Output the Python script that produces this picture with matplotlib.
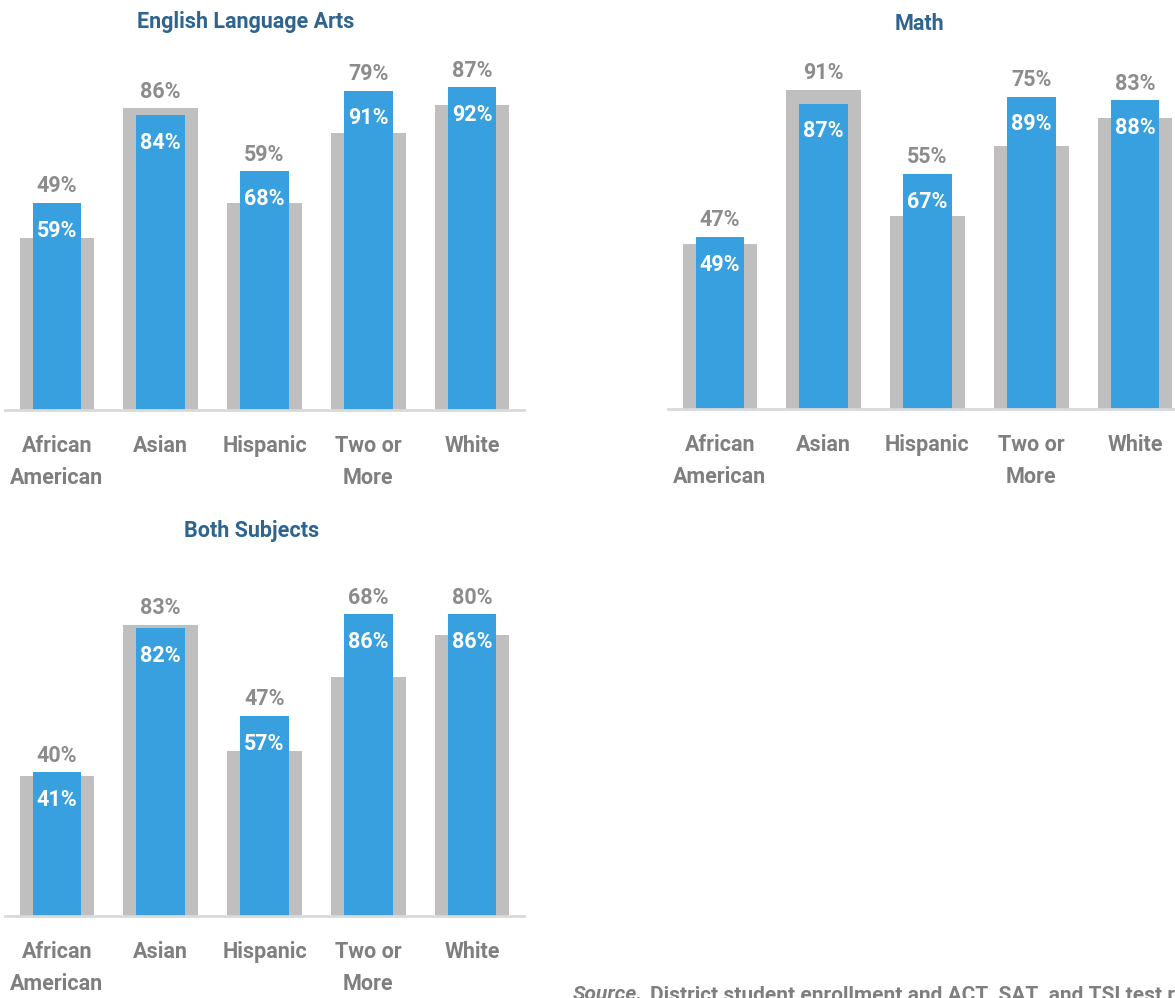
import matplotlib
matplotlib.use("Agg")
import matplotlib.pyplot as plt
import numpy as np

plt.rcParams['font.family'] = ['Roboto', 'DejaVu Sans']

# data
groups = ['African\nAmerican', 'Asian', 'Hispanic', 'Two or\nMore', 'White']
ela_gray = [49, 86, 59, 79, 87]
ela_blue = [59, 84, 68, 91, 92]
math_gray = [47, 91, 55, 75, 83]
math_blue = [49, 87, 67, 89, 88]
both_gray = [40, 83, 47, 68, 80]
both_blue = [41, 82, 57, 86, 86]

BLUE = '#39A0E0'
GRAY = '#BFBFBF'
TXT = '#7F7F7F'
TITLE = '#2D6490'

W, H = 1175, 998
fig = plt.figure(figsize=(W / 100, H / 100), dpi=100)

title_y = {'English Language Arts': 22, 'Math': 24, 'Both Subjects': 531}


def panel(left_px, base_px, title, title_x, gray, blue):
    ax = fig.add_axes([left_px / W, (H - base_px) / H, 519 / W, 351 / H])
    x = np.arange(len(groups))
    ax.bar(x, gray, width=0.72, color=GRAY, zorder=1)
    ax.bar(x, blue, width=0.47, color=BLUE, zorder=2)
    ax.set_xlim(-0.5, 4.5)
    ax.set_ylim(0, 100)
    for s in ['top', 'right', 'left']:
        ax.spines[s].set_visible(False)
    ax.spines['bottom'].set_color('#D9D9D9')
    ax.spines['bottom'].set_linewidth(2)
    ax.set_yticks([])
    ax.set_xticks(x)
    ax.set_xticklabels(groups, fontsize=15.5, fontweight='bold', color=TXT,
                       linespacing=1.6)
    ax.tick_params(axis='x', length=0, pad=18)
    for i in range(len(groups)):
        top = max(gray[i], blue[i])
        ax.annotate(f'{gray[i]}%', (x[i], top), xytext=(0, 4),
                    textcoords='offset points', ha='center', va='bottom',
                    fontsize=15.5, fontweight='bold', color='#8C8C8C',
                    annotation_clip=False)
        ax.annotate(f'{blue[i]}%', (x[i], blue[i]), xytext=(0, -20),
                    textcoords='offset points', ha='center', va='center',
                    fontsize=15.5, fontweight='bold', color='white')
    fig.text(title_x / W, 1 - title_y[title] / H, title, ha='center', va='center',
             fontsize=15.5, fontweight='bold', color=TITLE)
    return ax


panel(5, 410, 'English Language Arts', 246, ela_gray, ela_blue)
panel(668, 409, 'Math', 919, math_gray, math_blue)
panel(5, 916, 'Both Subjects', 252, both_gray, both_blue)

# source note, cut off at the bottom/right edge like the original
src1 = fig.text(573 / W, 1 - 995 / H, 'Source.', fontsize=15, fontstyle='italic',
                fontweight='bold', color=TXT, ha='left', va='center')
r = fig.canvas.get_renderer()
bb = src1.get_window_extent(renderer=r)
fig.text((bb.x1 + 7) / W, 1 - 995 / H,
         'District student enrollment and ACT, SAT, and TSI test results',
         fontsize=15, fontweight='bold', color=TXT, ha='left', va='center')

fig.savefig('out.png', dpi=100)
